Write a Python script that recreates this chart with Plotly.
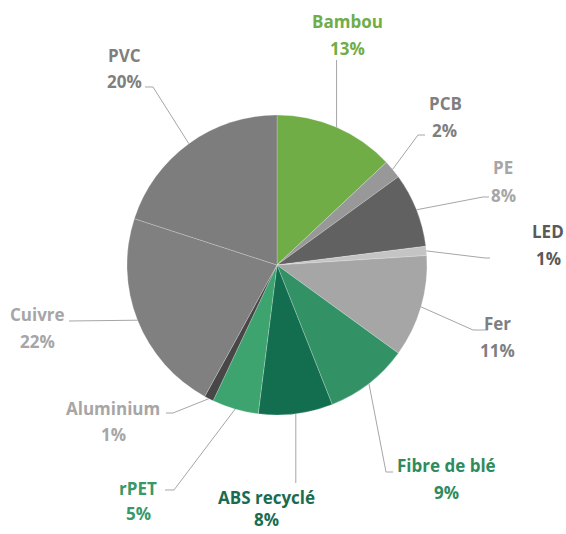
import math
import plotly.graph_objects as go

# ---- data ----
materials = ["Bambou", "PCB", "PE", "LED", "Fer", "Fibre de blé", "ABS recyclé",
             "rPET", "Aluminium", "Cuivre", "PVC"]
shares = [13, 2, 8, 1, 11, 9, 8, 5, 1, 22, 20]

slice_colors = ["#70AD47", "#989898", "#616161", "#C4C4C4", "#A6A6A6", "#339166",
                "#136E50", "#3DA46F", "#474747", "#808080", "#7D7D7D"]
label_colors = ["#70AD47", "#7F7F7F", "#A6A6A6", "#595959", "#7F7F7F", "#2E8B5E",
                "#1B6B4F", "#37986A", "#A6A6A6", "#A6A6A6", "#7F7F7F"]

# ---- layout (pixels) ----
W, H = 566, 534
CX, CY, R = 277, 265, 150
# label text centres (name line, percent line), elbow point, end of leader
label_layout = {
    "Bambou":       dict(name=(347, 22), pct=(347, 48), elbow=(None, 60), end=None),
    "PCB":          dict(name=(445, 103), pct=(444, 130), elbow=(418, 135), end=(425, 135)),
    "PE":           dict(name=(503, 167), pct=(503, 195), elbow=(483, 197), end=(489, 197)),
    "LED":          dict(name=(548, 232), pct=(548, 258), elbow=(485, 258), end=(490, 258)),
    "Fer":          dict(name=(497, 323), pct=(497, 350), elbow=(473, 330), end=(488, 330)),
    "Fibre de blé": dict(name=(447, 465), pct=(447, 492), elbow=(386, 472), end=(393, 472)),
    "ABS recyclé":  dict(name=(266, 497), pct=(266, 519), elbow=(None, 483), end=None),
    "rPET":         dict(name=(138, 488), pct=(138, 513), elbow=(174, 490), end=(165, 490)),
    "Aluminium":    dict(name=(113, 408), pct=(113, 434), elbow=(173, 413), end=(166, 413)),
    "Cuivre":       dict(name=(37, 314), pct=(37, 341), elbow=(69, 321), end=None),
    "PVC":          dict(name=(125, 55), pct=(124, 82), elbow=(153, 87), end=(145, 87)),
}

FONT = "Open Sans"
FSIZE = 17


def px(x, y):
    return x / W, 1 - y / H


fig = go.Figure(go.Pie(
    labels=materials,
    values=shares,
    sort=False,
    direction="clockwise",
    rotation=0,
    marker=dict(colors=slice_colors, line=dict(color="rgba(255,255,255,0.45)", width=0.5)),
    textinfo="none",
    hoverinfo="label+percent",
    showlegend=False,
    domain=dict(x=[(CX - R) / W, (CX + R) / W], y=[1 - (CY + R) / H, 1 - (CY - R) / H]),
))

total = sum(shares)
cum = 0
annotations = []
shapes = []
for name, val, col in zip(materials, shares, label_colors):
    mid = (cum + val / 2) / total * 2 * math.pi
    cum += val
    sx = CX + R * math.sin(mid)
    sy = CY - R * math.cos(mid)
    lay = label_layout[name]
    ex, ey = lay["elbow"]
    if ex is None:
        ex = sx
    pts = [(sx, sy), (ex, ey)]
    if lay["end"] is not None:
        pts.append(lay["end"])
    path = "M " + " L ".join(f"{px(x, y)[0]:.5f},{px(x, y)[1]:.5f}" for x, y in pts)
    shapes.append(dict(type="path", xref="paper", yref="paper", path=path,
                       line=dict(color="#A6A6A6", width=1)))
    pct_text = f"{round(val / total * 100)}%"
    for txt, pos in ((name, lay["name"]), (pct_text, lay["pct"])):
        x, y = px(*pos)
        annotations.append(dict(x=x, y=y, xref="paper", yref="paper", text=f"<b>{txt}</b>",
                                showarrow=False, xanchor="center", yanchor="middle",
                                font=dict(family=FONT, size=FSIZE, color=col)))

fig.update_layout(
    width=W, height=H,
    margin=dict(l=0, r=0, t=0, b=0),
    paper_bgcolor="white",
    plot_bgcolor="white",
    annotations=annotations,
    shapes=shapes,
)

fig.write_html("out.html", config={"displayModeBar": False},
               post_script="document.body.style.margin='0';")
